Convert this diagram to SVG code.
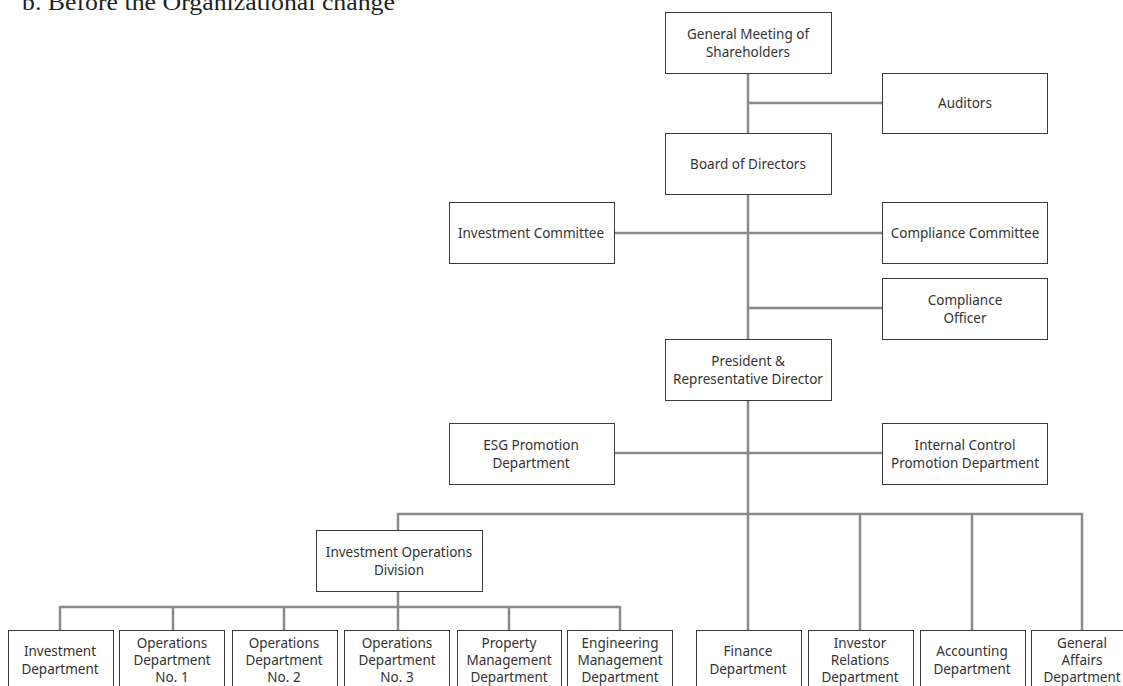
<svg xmlns="http://www.w3.org/2000/svg" width="1123" height="686" viewBox="0 0 1123 686">
<style>
.box{fill:#fff;stroke:#3a3a3a;stroke-width:1}
.t{font-family:"Noto Sans","Open Sans",sans-serif;font-size:13.5px;fill:#333;text-anchor:middle}
.c{stroke:#8a8a8a;stroke-width:2.5;fill:none}
.title{font-family:"Liberation Serif",serif;font-size:23px;fill:#222}
</style>
<rect width="1123" height="686" fill="#fff"/>
<text class="title" x="22" y="10" textLength="373" lengthAdjust="spacingAndGlyphs">b. Before the Organizational change</text>
<g id="connectors">
<path class="c" d="M748 73V630"/>
<path class="c" d="M748 103H882"/>
<path class="c" d="M614 233H882"/>
<path class="c" d="M748 308H882"/>
<path class="c" d="M614 453H882"/>
<path class="c" d="M398 530V514H1082V630"/>
<path class="c" d="M860 514V630M972 514V630"/>
<path class="c" d="M398 591V630"/>
<path class="c" d="M60 630V607H620V630"/>
<path class="c" d="M173 607V630M284 607V630M509 607V630"/>
</g>
<g id="gms"><rect class="box" x="665.5" y="12.5" width="166" height="61"/><text class="t" x="748" y="39">General Meeting of</text><text class="t" x="748" y="57">Shareholders</text></g>
<g id="auditors"><rect class="box" x="882.5" y="73.5" width="165" height="60"/><text class="t" x="965" y="108">Auditors</text></g>
<g id="board"><rect class="box" x="665.5" y="133.5" width="166" height="61"/><text class="t" x="748" y="169">Board of Directors</text></g>
<g id="invcom"><rect class="box" x="449.5" y="202.5" width="165" height="61"/><text class="t" x="531" y="238">Investment Committee</text></g>
<g id="compcom"><rect class="box" x="882.5" y="202.5" width="165" height="61"/><text class="t" x="965" y="238">Compliance Committee</text></g>
<g id="compoff"><rect class="box" x="882.5" y="278.5" width="165" height="61"/><text class="t" x="965" y="305">Compliance</text><text class="t" x="965" y="323">Officer</text></g>
<g id="president"><rect class="box" x="665.5" y="339.5" width="166" height="61"/><text class="t" x="748" y="366">President &amp;</text><text class="t" x="748" y="384">Representative Director</text></g>
<g id="esg"><rect class="box" x="449.5" y="423.5" width="165" height="61"/><text class="t" x="531" y="450">ESG Promotion</text><text class="t" x="531" y="468">Department</text></g>
<g id="icp"><rect class="box" x="882.5" y="423.5" width="165" height="61"/><text class="t" x="965" y="450">Internal Control</text><text class="t" x="965" y="468">Promotion Department</text></g>
<g id="iod"><rect class="box" x="316.5" y="530.5" width="166" height="61"/><text class="t" x="399" y="557">Investment Operations</text><text class="t" x="399" y="575">Division</text></g>
<g id="invdept"><rect class="box" x="8.5" y="630.5" width="105" height="62"/><text class="t" x="60" y="656">Investment</text><text class="t" x="60" y="674">Department</text></g>
<g id="ops1"><rect class="box" x="119.5" y="630.5" width="105" height="62"/><text class="t" x="172" y="648">Operations</text><text class="t" x="172" y="665">Department</text><text class="t" x="172" y="682">No. 1</text></g>
<g id="ops2"><rect class="box" x="232.5" y="630.5" width="105" height="62"/><text class="t" x="284" y="648">Operations</text><text class="t" x="284" y="665">Department</text><text class="t" x="284" y="682">No. 2</text></g>
<g id="ops3"><rect class="box" x="344.5" y="630.5" width="105" height="62"/><text class="t" x="397" y="648">Operations</text><text class="t" x="397" y="665">Department</text><text class="t" x="397" y="682">No. 3</text></g>
<g id="pmd"><rect class="box" x="457.5" y="630.5" width="104" height="62"/><text class="t" x="509" y="648">Property</text><text class="t" x="509" y="665">Management</text><text class="t" x="509" y="682">Department</text></g>
<g id="emd"><rect class="box" x="567.5" y="630.5" width="105" height="62"/><text class="t" x="620" y="648">Engineering</text><text class="t" x="620" y="665">Management</text><text class="t" x="620" y="682">Department</text></g>
<g id="finance"><rect class="box" x="696.5" y="630.5" width="105" height="62"/><text class="t" x="748" y="656">Finance</text><text class="t" x="748" y="674">Department</text></g>
<g id="ir"><rect class="box" x="808.5" y="630.5" width="105" height="62"/><text class="t" x="860" y="648">Investor</text><text class="t" x="860" y="665">Relations</text><text class="t" x="860" y="682">Department</text></g>
<g id="accounting"><rect class="box" x="920.5" y="630.5" width="105" height="62"/><text class="t" x="972" y="656">Accounting</text><text class="t" x="972" y="674">Department</text></g>
<g id="ga"><rect class="box" x="1031.5" y="630.5" width="105" height="62"/><text class="t" x="1082" y="648">General</text><text class="t" x="1082" y="665">Affairs</text><text class="t" x="1082" y="682">Department</text></g>
</svg>
